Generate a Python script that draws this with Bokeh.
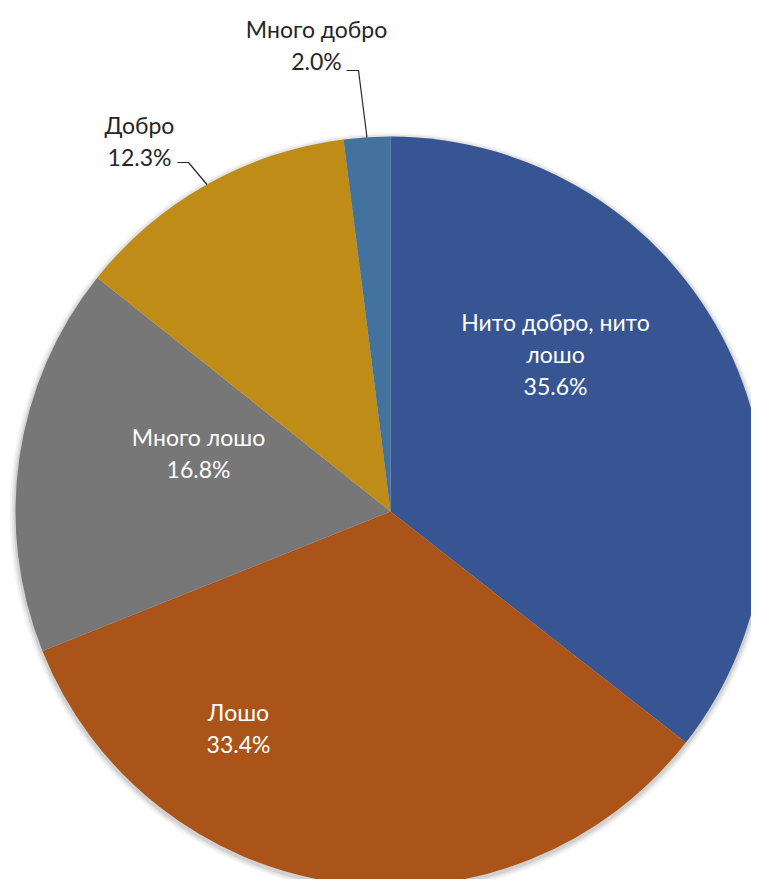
import math
from bokeh.plotting import figure
from bokeh.models import Range1d, ColumnDataSource
from bokeh.core.properties import value
from bokeh.embed import file_html
from bokeh.resources import INLINE

# ---- data ----
categories = ["Нито добро, нито лошо", "Лошо", "Много лошо", "Добро", "Много добро"]
percents = [35.6, 33.4, 16.8, 12.3, 2.0]
label_lines = [["Нито добро, нито", "лошо", "35.6%"], ["Лошо", "33.4%"],
               ["Много лошо", "16.8%"], ["Добро", "12.3%"], ["Много добро", "2.0%"]]

# ---- styles / layout ----
colors = ["#385593", "#ab5419", "#777777", "#bf8d17", "#43729f"]
text_colors = ["white", "white", "white", "#262626", "#262626"]
label_centers = [(555, 353), (238, 727), (198, 452), (139, 140), (316, 44)]
leader_starts = [None, None, None, (177, 162), (346, 70)]
leader_elbows = [None, None, None, (188, 162), (358, 70)]

cx, cy, R = 390, -511, 375
W, H = 751, 879

p = figure(width=W, height=H, x_range=Range1d(0, W), y_range=Range1d(-H, 0),
           output_backend="svg", toolbar_location=None, min_border=0)
p.axis.visible = False
p.grid.visible = False
p.outline_line_color = None
p.background_fill_color = "white"

total = sum(percents)
starts, ends, mids = [], [], []
cum = 0.0
for v in percents:
    a0 = math.pi / 2 - 2 * math.pi * cum / total
    cum += v
    a1 = math.pi / 2 - 2 * math.pi * cum / total
    starts.append(a0)
    ends.append(a1)
    mids.append((a0 + a1) / 2)

# soft shadow
for k, al in [(6, 0.04), (4, 0.06), (2, 0.09)]:
    p.circle(x=[cx], y=[cy - 2], radius=R + k, fill_color="black", fill_alpha=al, line_color=None)

src = ColumnDataSource(dict(start=starts, end=ends, color=colors, name=categories))
p.wedge(x=cx, y=cy, radius=R, start_angle="start", end_angle="end", direction="clock",
        fill_color="color", line_color=None, source=src)

line_h = 32
for i, lines in enumerate(label_lines):
    lx, ly = label_centers[i]
    n = len(lines)
    xs, ys = [], []
    for j, t in enumerate(lines):
        xs.append(lx)
        ys.append(-(ly + (j - (n - 1) / 2) * line_h))
    p.text(x=xs, y=ys, text=lines, text_align="center", text_baseline="middle",
           text_font=value("Lato"), text_font_size="23px", text_color=text_colors[i])
    if leader_starts[i] is not None:
        ex = cx + R * math.cos(mids[i])
        ey = cy + R * math.sin(mids[i])
        sx, sy = leader_starts[i]
        bx, by = leader_elbows[i]
        p.line(x=[sx, bx, ex], y=[-sy, -by, ey], line_color="#262626", line_width=1.2)

open("out.html", "w").write(file_html(p, INLINE))
